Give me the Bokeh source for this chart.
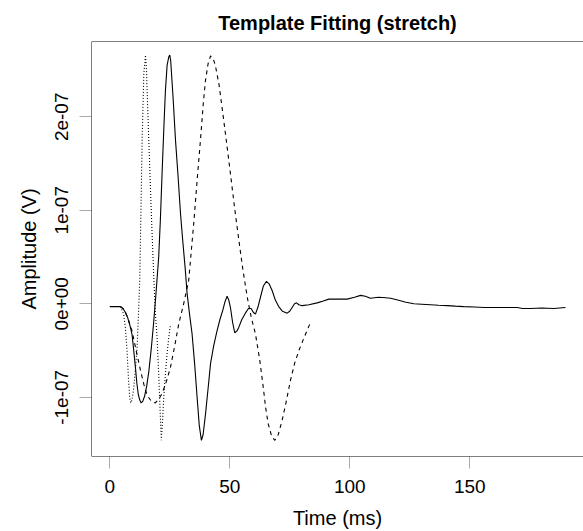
from bokeh.plotting import figure
from bokeh.models import Range1d, FixedTicker, Span
from bokeh.embed import file_html
from bokeh.resources import INLINE

# ---- data (time in ms, amplitude in units of 1e-07 V) ----
signal_t = [0, 2, 4.5, 5.5, 6.5, 7.5, 8.5, 9.3, 10, 10.7, 11.3, 11.9, 12.5, 13.1, 13.8, 14.5,
            15.4, 16.3, 17.3, 18.3, 19.3, 20.4, 21.1, 21.8, 22.5, 23.2, 23.9, 24.6, 25.0, 25.4,
            26.4, 27.4, 28.5, 29.5, 30.5, 31.5, 32.2, 33.2, 34.3, 35.4, 36.4, 37.3, 38.2, 38.9,
            39.9, 41, 42, 43.3, 44.7, 46, 47.1, 48, 48.9, 49.6, 50.3, 51.2, 52.1, 53, 53.8, 55,
            56.5, 57.8, 58.9, 59.8, 60.7, 61.7, 62.8, 64, 65.3, 66.5, 67.7, 69, 70.4, 72, 73.9,
            75, 76, 77, 77.8, 78.8, 80.2, 83, 86.4, 89, 91.3, 95, 98.9, 102, 104.5, 106.5, 108.6,
            112, 115, 117, 120, 123, 126.7, 130, 133.6, 137, 140.6, 144, 147.5, 152, 156, 161.4,
            165, 169.8, 172, 175.3, 180, 185, 189.9]
signal_v = [-0.03, -0.03, -0.03, -0.05, -0.09, -0.15, -0.24, -0.33, -0.5, -0.68, -0.85, -0.97,
            -1.03, -1.06, -1.04, -0.99, -0.88, -0.72, -0.48, -0.2, 0.12, 0.5, 0.9, 1.39, 1.85,
            2.28, 2.55, 2.64, 2.66, 2.6, 2.2, 1.75, 1.35, 0.96, 0.65, 0.36, 0.12, -0.1, -0.32,
            -0.65, -1.0, -1.3, -1.46, -1.4, -1.18, -0.9, -0.64, -0.45, -0.29, -0.16, -0.07, 0.02,
            0.08, 0.04, -0.04, -0.2, -0.31, -0.29, -0.25, -0.17, -0.1, -0.05, -0.05, -0.09, -0.11,
            -0.04, 0.07, 0.19, 0.24, 0.21, 0.14, 0.04, -0.03, -0.08, -0.1, -0.08, -0.04, 0.0, 0.01,
            -0.01, -0.02, -0.01, 0.01, 0.03, 0.05, 0.05, 0.05, 0.07, 0.09, 0.08, 0.06, 0.07, 0.065,
            0.06, 0.04, 0.02, 0.0, -0.005, -0.01, -0.015, -0.02, -0.025, -0.03, -0.035, -0.04,
            -0.04, -0.04, -0.04, -0.05, -0.05, -0.045, -0.05, -0.04]

compressed_t = [4.5, 5.8, 6.5, 7.2, 7.8, 8.3, 8.7, 9.3, 10.0, 10.7, 11.4, 12.0, 12.5, 12.8, 13.5,
                14.2, 14.9, 15.3, 15.8, 16.4, 17.0, 17.6, 18.3, 19.0, 19.7, 20.4, 21.0, 21.5,
                22.0, 22.5, 23.2, 23.9, 24.6, 25.3]
compressed_v = [-0.03, -0.11, -0.25, -0.5, -0.8, -1.0, -1.06, -1.03, -0.9, -0.7, -0.46, -0.1,
                0.25, 0.68, 1.75, 2.46, 2.66, 2.5, 2.1, 1.65, 1.21, 0.78, 0.32, -0.1, -0.35,
                -0.75, -1.15, -1.46, -1.25, -1.0, -0.75, -0.53, -0.36, -0.22]

stretched_t = [4.5, 6, 7.5, 9.3, 11, 12.8, 14.2, 15.6, 17.3, 19, 20.4, 21.8, 23.5, 25.3, 27,
               28.8, 30.8, 32.9, 35, 36.5, 37.8, 39, 39.9, 41, 42, 43, 44, 45.5, 46.8, 48.5,
               50.3, 52, 53.8, 55.5, 57.3, 59, 60.7, 62.5, 64, 64.9, 66, 67.5, 68.8, 70.2,
               71.8, 73.5, 75.3, 77, 78.8, 81, 83.3]
stretched_v = [-0.03, -0.06, -0.15, -0.29, -0.5, -0.71, -0.86, -0.98, -1.04, -1.06, -1.02,
               -0.96, -0.84, -0.68, -0.46, -0.21, 0.0, 0.25, 0.86, 1.35, 1.75, 2.15, 2.39,
               2.57, 2.65, 2.63, 2.55, 2.35, 2.1, 1.76, 1.39, 1.03, 0.68, 0.36, 0.07, -0.15,
               -0.32, -0.6, -0.9, -1.1, -1.28, -1.42, -1.46, -1.4, -1.25, -1.05, -0.82, -0.64,
               -0.5, -0.36, -0.22]

x_ticks = [0, 50, 100, 150]
y_ticks = [-1, 0, 1, 2]
y_tick_labels = ["-1e-07", "0e+00", "1e-07", "2e-07"]

FONT = "Liberation Sans"
X0, X1 = -7.6, 197.4
Y0, Y1 = -1.633, 2.805

p = figure(width=583, height=531, output_backend="svg", toolbar_location=None,
           x_range=Range1d(X0, X1), y_range=Range1d(Y0, Y1),
           min_border_left=91, min_border_right=0, min_border_top=41, min_border_bottom=75,
           title="Template Fitting (stretch)")

p.title.text_font = FONT
p.title.text_font_style = "bold"
p.title.text_font_size = "20px"
p.title.align = "center"
p.title.text_color = "black"
p.title.standoff = 15

p.line(signal_t, signal_v, line_color="black", line_width=1.1)
p.line(compressed_t, compressed_v, line_color="black", line_width=1.1, line_dash="1 2")
p.line(stretched_t, stretched_v, line_color="black", line_width=1.1, line_dash="4 4")

p.xgrid.visible = False
p.ygrid.visible = False
# box: left, top and bottom edges (the right edge lies just beyond the picture)
p.outline_line_color = None
for loc, dim in ((X0, "height"), (Y0, "width"), (Y1, "width")):
    p.add_layout(Span(location=loc, dimension=dim, line_color="black", line_width=1))
p.background_fill_color = "white"
p.border_fill_color = "white"

for ax in (p.xaxis[0], p.yaxis[0]):
    ax.axis_line_color = None
    ax.major_tick_in = 0
    ax.major_tick_out = 12
    ax.major_tick_line_color = "#aaaaaa"
    ax.minor_tick_line_color = None
    ax.major_label_text_font = FONT
    ax.major_label_text_font_size = "19px"
    ax.major_label_text_color = "black"
    ax.axis_label_text_font = FONT
    ax.axis_label_text_font_size = "20px"
    ax.axis_label_text_font_style = "normal"
    ax.axis_label_text_color = "black"

p.xaxis.ticker = FixedTicker(ticks=x_ticks)
p.yaxis.ticker = FixedTicker(ticks=y_ticks)
p.yaxis.major_label_overrides = {t: s for t, s in zip(y_ticks, y_tick_labels)}
p.yaxis.major_label_orientation = "vertical"
p.xaxis.axis_label = "Time (ms)"
p.yaxis.axis_label = "Amplitude (V)"
p.xaxis.major_label_standoff = 11
p.xaxis.axis_label_standoff = 11
p.yaxis.major_label_standoff = 11
p.yaxis.axis_label_standoff = 13

open("out.html", "w").write(file_html(p, INLINE))
